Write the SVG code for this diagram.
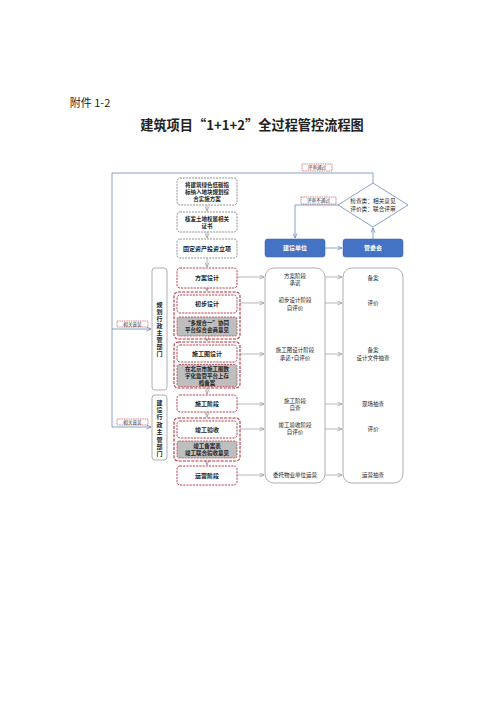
<svg xmlns="http://www.w3.org/2000/svg" width="500" height="707" viewBox="0 0 500 707">
<style>
text{font-family:"Noto Sans CJK SC","Noto Sans",sans-serif;text-anchor:middle;fill:#222}
.t{font-size:6px;font-weight:bold}
.m{font-size:5.5px;font-weight:bold}
.s{font-size:5.5px}
.lab{font-size:4.6px;fill:#333}
.v{font-size:6px;font-weight:bold;writing-mode:vertical-rl}
.gd{fill:#fff;stroke:#777;stroke-width:0.8;stroke-dasharray:2 1}
.rd{fill:#fff;stroke:#B0303A;stroke-width:0.9;stroke-dasharray:2.2 1}
.rg{fill:none;stroke:#B0303A;stroke-width:1.1;stroke-dasharray:3 1.2}
.gf{fill:#BEBEBE;stroke:#B0303A;stroke-width:0.7;stroke-dasharray:2 1}
.col{fill:#fff;stroke:#9A9A9A;stroke-width:0.8}
.blue{fill:#4472C4;stroke:#3A62A8;stroke-width:0.5}
.bt{fill:#fff;font-size:6px;font-weight:bold}
.lb{fill:#fff;stroke:#C0303A;stroke-width:0.6;stroke-dasharray:1.5 0.8}
.ga{fill:none;stroke:#9A9A9A;stroke-width:0.7;marker-end:url(#ag)}
.ba{fill:none;stroke:#6A88C0;stroke-width:0.8}
</style>
<defs>
<marker id="ag" viewBox="0 0 6 6" refX="5.5" refY="3" markerWidth="5" markerHeight="5" orient="auto" markerUnits="userSpaceOnUse"><path d="M0,0.5 L5.5,3 L0,5.5" fill="none" stroke="#9A9A9A" stroke-width="0.9"/></marker>
<marker id="ab" viewBox="0 0 6 6" refX="5.5" refY="3" markerWidth="5" markerHeight="5" orient="auto" markerUnits="userSpaceOnUse"><path d="M0,0.5 L5.5,3 L0,5.5" fill="none" stroke="#6A88C0" stroke-width="0.9"/></marker>
</defs>
<rect width="500" height="707" fill="#fff"/>
<text x="90" y="107" style="font-size:11px;fill:#222">附件 1-2</text>
<text x="252" y="130" style="font-size:13.2px;font-weight:bold">建筑项目“1+1+2”全过程管控流程图</text>

<g id="connectors">
<path class="ba" d="M373,183 V173 H112 V427 H151" marker-end="url(#ab)"/>
<path class="ba" d="M112,329 H151" marker-end="url(#ab)"/>
<path class="ba" d="M338,205 H295 V238" marker-end="url(#ab)"/>
<path class="ba" d="M325,248 H342" marker-end="url(#ab)"/>
<path class="ba" d="M373,239 V228" marker-end="url(#ab)"/>
<path class="ga" d="M207,205 V211"/>
<path class="ga" d="M207,232 V238"/>
<path class="ga" d="M207,258 V267"/>
<path class="ga" d="M207,288 V291"/>
<path class="ga" d="M207,339 V341"/>
<path class="ga" d="M207,388 V394"/>
<path class="ga" d="M207,412 V417"/>
<path class="ga" d="M207,461 V465"/>
<path class="ga" d="M237,277 H264"/>
<path class="ga" d="M240,303 H264"/>
<path class="ga" d="M240,354 H264"/>
<path class="ga" d="M237,404 H264"/>
<path class="ga" d="M240,429 H264"/>
<path class="ga" d="M237,475 H264"/>
<path class="ga" d="M325,277 H342"/>
<path class="ga" d="M325,303 H342"/>
<path class="ga" d="M325,354 H342"/>
<path class="ga" d="M325,404 H342"/>
<path class="ga" d="M325,429 H342"/>
<path class="ga" d="M325,475 H342"/>
</g>

<g id="label-pass"><rect class="lb" x="302" y="164" width="30" height="7"/><text class="lab" x="317" y="169.3">评审通过</text></g>
<g id="label-fail"><rect class="lb" x="301" y="197" width="35" height="7"/><text class="lab" x="318.5" y="202.3">评审不通过</text></g>
<g id="label-opinion1"><rect class="lb" x="117" y="321" width="31" height="6"/><text class="lab" x="132.5" y="325.8">相关意见</text></g>
<g id="label-opinion2"><rect class="lb" x="117" y="419" width="31" height="6"/><text class="lab" x="132.5" y="423.8">相关意见</text></g>

<g id="n-decision"><path d="M373,183 L408,205 L373,227 L338,205 Z" fill="#fff" stroke="#6A88C0" stroke-width="0.8"/>
<text class="s" x="373" y="203" style="font-size:5.7px"><tspan x="373">检查类：相关意见</tspan><tspan x="373" dy="7.5">评价类：联合评审</tspan></text></g>
<g id="n-jsdw"><rect class="blue" x="265" y="239" width="60" height="18" rx="2.5"/><text class="bt" x="295" y="250">建设单位</text></g>
<g id="n-gwh"><rect class="blue" x="343" y="239" width="60" height="18" rx="2.5"/><text class="bt" x="373" y="250">管委会</text></g>

<g id="n-green"><rect class="gd" x="177" y="178" width="60" height="27" rx="3"/>
<text class="m" x="207" y="187"><tspan x="207">将建筑绿色低碳指</tspan><tspan x="207" dy="7">标纳入地块规划综</tspan><tspan x="207" dy="7">合实施方案</tspan></text></g>
<g id="n-land"><rect class="gd" x="177" y="212" width="60" height="20" rx="3"/>
<text class="m" x="207" y="220.5"><tspan x="207">核发土地权属相关</tspan><tspan x="207" dy="7">证书</tspan></text></g>
<g id="n-invest"><rect class="gd" x="177" y="239" width="60" height="19" rx="3"/>
<text class="t" x="207" y="250.5">固定资产投资立项</text></g>

<g id="n-scheme"><rect class="rd" x="177" y="268" width="60" height="20" rx="3"/><text class="t" x="207" y="280">方案设计</text></g>
<g id="n-prelim"><rect class="rg" x="174" y="292" width="66" height="47" rx="4"/>
<rect class="rd" x="177" y="295" width="60" height="18" rx="3"/><text class="t" x="207" y="306">初步设计</text>
<rect class="gf" x="177" y="317" width="60" height="19" rx="2"/><text class="m" x="207" y="325"><tspan x="207">“多规合一”协同</tspan><tspan x="207" dy="7">平台综合会商意见</tspan></text></g>
<g id="n-construct-design"><rect class="rg" x="174" y="342" width="66" height="46" rx="4"/>
<rect class="rd" x="177" y="345" width="60" height="17" rx="3"/><text class="t" x="207" y="355.5">施工图设计</text>
<rect class="gf" x="177" y="364.5" width="60" height="22" rx="2"/><text class="m" x="207" y="371"><tspan x="207">在北京市施工图数</tspan><tspan x="207" dy="6.9">字化监管平台上存</tspan><tspan x="207" dy="6.9">档备案</tspan></text></g>
<g id="n-construct"><rect class="rd" x="177" y="395" width="60" height="17" rx="3"/><text class="t" x="207" y="405.5">施工阶段</text></g>
<g id="n-accept"><rect class="rg" x="174" y="418" width="66" height="43" rx="4"/>
<rect class="rd" x="177" y="421" width="60" height="17" rx="3"/><text class="t" x="207" y="431.5">竣工验收</text>
<rect class="gf" x="177" y="441" width="60" height="17" rx="2"/><text class="m" x="207" y="448"><tspan x="207">竣工备案表</tspan><tspan x="207" dy="7">竣工联合验收意见</tspan></text></g>
<g id="n-operate"><rect class="rd" x="177" y="466" width="60" height="19" rx="3"/><text class="t" x="207" y="477.5">运营阶段</text></g>

<g id="n-dept-plan"><rect class="col" x="152" y="268" width="15" height="122" rx="3"/>
<text class="v" x="159.5" y="330" style="letter-spacing:1px">规划行政主管部门</text></g>
<g id="n-dept-build"><rect class="col" x="152" y="395" width="15" height="65" rx="3"/>
<text class="v" x="159.5" y="429" style="letter-spacing:1.4px">建设行政主管部门</text></g>

<g id="n-col-unit"><rect class="col" x="265" y="268" width="60" height="215" rx="9"/>
<text class="s" x="295" y="278"><tspan x="295">方案阶段</tspan><tspan x="295" dy="7">承诺</tspan></text>
<text class="s" x="295" y="302"><tspan x="295">初步设计阶段</tspan><tspan x="295" dy="8">自评价</tspan></text>
<text class="s" x="295" y="352"><tspan x="295">施工图设计阶段</tspan><tspan x="295" dy="8">承诺+自评价</tspan></text>
<text class="s" x="295" y="403"><tspan x="295">施工阶段</tspan><tspan x="295" dy="7">自查</tspan></text>
<text class="s" x="295" y="427"><tspan x="295">竣工验收阶段</tspan><tspan x="295" dy="7">自评价</tspan></text>
<text class="s" x="295" y="477">委托物业单位运营</text></g>
<g id="n-col-gwh"><rect class="col" x="343" y="268" width="60" height="215" rx="9"/>
<text class="s" x="373" y="280">备案</text>
<text class="s" x="373" y="305">评价</text>
<text class="s" x="373" y="352"><tspan x="373">备案</tspan><tspan x="373" dy="8">设计文件抽查</tspan></text>
<text class="s" x="373" y="406">现场抽查</text>
<text class="s" x="373" y="431">评价</text>
<text class="s" x="373" y="477">运营抽查</text></g>
</svg>
